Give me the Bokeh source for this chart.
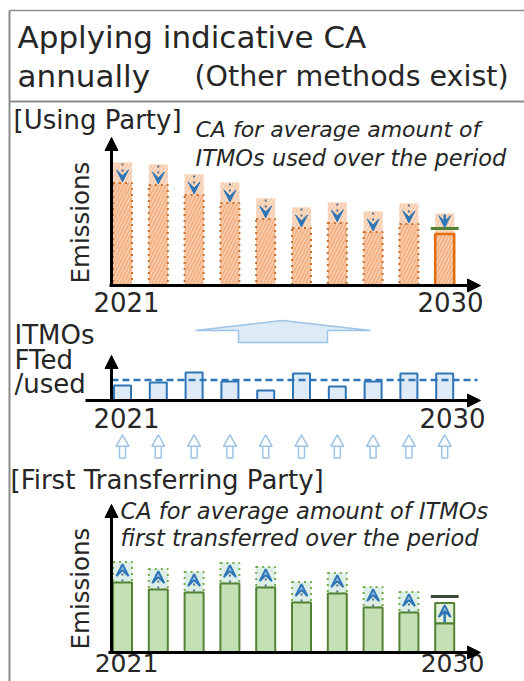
import numpy as np
from bokeh.plotting import figure
from bokeh.models import Range1d, ColumnDataSource, Arrow, NormalHead, VeeHead
from bokeh.embed import file_html
from bokeh.resources import INLINE
from bokeh.core.properties import value

# ---------------- data ----------------
years = list(range(2021, 2031))
# [Using Party] emissions before CA
using_emissions = [123, 121, 111, 103, 87, 78, 83, 74, 82, 72]
# ITMOs first transferred / used each year
itmos = [15, 18, 28, 19, 10, 27, 14, 19, 27, 27]
# [First Transferring Party] emissions before CA
ft_emissions = [70, 63, 60, 69, 65, 50, 59, 45, 40, 29]
target_using_2030 = 57
target_ft_2030 = 56
year_labels = ["2021", "2030"]

avg = float(np.mean(itmos))
using_adj = [e - avg for e in using_emissions]
ft_adj = [e + avg for e in ft_emissions]

# ---------------- layout constants ----------------
X0, DX = 122.0, 35.8          # pixel centre of first year, pixels per year
PAGE_L, PAGE_R, PAGE_T, PAGE_B = 0, 524, 0, 681
BASE_TOP, BASE_MID, BASE_BOT = 285, 400, 652
FONT = value("DejaVu Sans")
TXT = "#262626"
SHIFT = 0.45   # empirical baseline correction (em)

p = figure(width=PAGE_R - PAGE_L, height=PAGE_B - PAGE_T,
           x_range=Range1d(PAGE_L, PAGE_R), y_range=Range1d(PAGE_B, PAGE_T),
           x_axis_location=None, y_axis_location=None,
           output_backend="svg", toolbar_location=None, min_border=0)
p.grid.visible = False
p.outline_line_color = None
p.background_fill_color = "white"

p.extra_x_ranges = {"yr": Range1d(2021 + (PAGE_L - X0) / DX, 2021 + (PAGE_R - X0) / DX)}
p.extra_y_ranges = {
    "top": Range1d(BASE_TOP - PAGE_B, BASE_TOP - PAGE_T),
    "mid": Range1d(BASE_MID - PAGE_B, BASE_MID - PAGE_T),
    "bot": Range1d(BASE_BOT - PAGE_B, BASE_BOT - PAGE_T),
}

def label(x, y, s, size, style="normal", rotated=False, align="left"):
    if rotated:
        x, angle = x - SHIFT * size, np.pi / 2
    else:
        y, angle = y - SHIFT * size, 0.0
    p.text(x=[x], y=[y], text=[s], text_font=FONT, text_font_size=f"{size}px",
           text_font_style=style, text_color=TXT, text_align=align,
           text_baseline="alphabetic", angle=angle)

# ---------------- frame lines ----------------
BORDER = "#8C8C8C"
p.line([9, 9], [10, 681], line_color=BORDER, line_width=2)
p.line([9, 524], [10, 10], line_color=BORDER, line_width=1.5)
p.line([9, 524], [101, 101], line_color=BORDER, line_width=2)

# ---------------- title ----------------
label(17, 50, "Applying indicative CA", 31)
label(17, 89, "annually", 31)
label(194, 89, "(Other methods exist)", 28.5)

# ---------------- top panel: Using Party ----------------
label(13, 131, "[Using Party]", 26)
label(195, 139, "CA for average amount of", 22, "italic")
label(195, 168, "ITMOs used over the period", 22.5, "italic")
label(91, 222, "Emissions", 24.5, rotated=True, align="center")

BW = 19 / DX
src_top = ColumnDataSource(dict(x=years, em=using_emissions, adj=using_adj))
p.vbar(x="x", bottom="adj", top="em", width=BW, source=src_top,
       fill_color="#FBE3D2", line_color=None, hatch_pattern="/",
       hatch_color="#F8CBAD", hatch_weight=2, hatch_scale=7,
       x_range_name="yr", y_range_name="top")
src_top9 = ColumnDataSource(dict(x=years[:-1], adj=using_adj[:-1]))
p.vbar(x="x", bottom=0, top="adj", width=BW, source=src_top9,
       fill_color="#FAD3B7", hatch_pattern="/", hatch_color="#F4B183",
       hatch_weight=2, hatch_scale=7, line_color="#C9702E",
       line_dash="dotted", line_width=2, x_range_name="yr", y_range_name="top")
p.vbar(x=[years[-1]], bottom=[0], top=[using_adj[-1]], width=BW,
       fill_color="#FAD3B7", hatch_pattern="/", hatch_color="#F4B183",
       hatch_weight=2, hatch_scale=7, line_color="#E46C0A", line_width=2.5,
       x_range_name="yr", y_range_name="top")
p.segment(x0=[years[-1] - 0.39], x1=[years[-1] + 0.39],
          y0=[target_using_2030], y1=[target_using_2030],
          line_color="#548235", line_width=3, x_range_name="yr", y_range_name="top")

arr_top = ColumnDataSource(dict(x=years[:-1], ys=[e - 1 for e in using_emissions[:-1]],
                                ye=[a + 1 for a in using_adj[:-1]]))
p.add_layout(Arrow(x_start="x", y_start="ys", x_end="x", y_end="ye", source=arr_top,
                   start=None, end=VeeHead(size=12, fill_color="#2E75B6", line_color="#2E75B6"),
                   line_color="#5B6F8A", line_width=2, line_dash="dotted",
                   x_range_name="yr", y_range_name="top"))
p.add_layout(Arrow(x_start=years[-1], y_start=using_emissions[-1] - 1,
                   x_end=years[-1], y_end=target_using_2030 + 1,
                   start=None, end=VeeHead(size=12, fill_color="#2E75B6", line_color="#2E75B6"),
                   line_color="#2E75B6", line_width=2.5,
                   x_range_name="yr", y_range_name="top"))

# axes (top)
HEAD = dict(size=13, fill_color="black", line_color="black")
p.add_layout(Arrow(x_start=111, y_start=286, x_end=111, y_end=137,
                   end=NormalHead(**HEAD), line_width=3))
p.add_layout(Arrow(x_start=109, y_start=285, x_end=480, y_end=285,
                   end=NormalHead(**HEAD), line_width=3))
label(126, 313, year_labels[0], 26, align="center")
label(450, 313, year_labels[1], 26, align="center")

# big block arrow
p.patch([195, 282, 370, 327, 327, 238, 238], [330, 320, 330, 330, 342, 342, 330],
        fill_color="#DDEBF7", line_color="#9DC3E6", line_width=1.5)

# ---------------- middle panel: ITMOs ----------------
label(14, 346, "ITMOs", 26)
label(14, 371, "FTed", 26)
label(14, 395, "/used", 26)
p.vbar(x=years, bottom=0, top=itmos, width=17 / DX, fill_color="#DEEBF7",
       line_color="#2E75B6", line_width=2, x_range_name="yr", y_range_name="mid")
p.segment(x0=[2021 + (111 - X0) / DX], x1=[2021 + (477 - X0) / DX], y0=[avg], y1=[avg],
          line_color="#2E75B6", line_width=2.5, line_dash="7 4",
          x_range_name="yr", y_range_name="mid")
p.add_layout(Arrow(x_start=111, y_start=401, x_end=111, y_end=355,
                   end=NormalHead(**HEAD), line_width=3))
p.add_layout(Arrow(x_start=85, y_start=400, x_end=480, y_end=400,
                   end=NormalHead(**HEAD), line_width=3))
label(126, 429, year_labels[0], 26, align="center")
label(452, 429, year_labels[1], 26, align="center")

# small hollow up arrows
p.rect(x=years, y=[451] * len(years), width=6, height=13, width_units="screen",
       fill_color="white", line_color="#9DC3E6", line_width=1.5, x_range_name="yr")
p.scatter(x=years, y=[442] * len(years), marker="triangle", size=13,
          fill_color="white", line_color="#9DC3E6", line_width=1.5, x_range_name="yr")

# ---------------- bottom panel: First Transferring Party ----------------
label(10, 491, "[First Transferring Party]", 26)
label(120, 521, "CA for average amount of ITMOs", 22.5, "italic")
label(120, 548, "first transferred over the period", 22.5, "italic")
label(91, 588, "Emissions", 24.5, rotated=True, align="center")

src_b9 = ColumnDataSource(dict(x=years[:-1], em=ft_emissions[:-1], adj=ft_adj[:-1]))
p.vbar(x="x", bottom="em", top="adj", width=BW, source=src_b9,
       fill_color="#DCEEE6", line_color="#70AD47", line_width=2, line_dash="dotted",
       x_range_name="yr", y_range_name="bot")
p.vbar(x=[years[-1]], bottom=[ft_emissions[-1]], top=[ft_adj[-1]], width=BW,
       fill_color="#E2F0D9", line_color="#548235", line_width=2,
       x_range_name="yr", y_range_name="bot")
p.vbar(x=years, bottom=0, top=ft_emissions, width=BW, fill_color="#C5E0B4",
       line_color="#548235", line_width=2, x_range_name="yr", y_range_name="bot")
p.segment(x0=[years[-1] - 0.39], x1=[years[-1] + 0.39],
          y0=[target_ft_2030], y1=[target_ft_2030],
          line_color="#3B4A33", line_width=3, x_range_name="yr", y_range_name="bot")

arr_bot = ColumnDataSource(dict(x=years[:-1], ys=[e + 1 for e in ft_emissions[:-1]],
                                ye=[a - 2 for a in ft_adj[:-1]]))
p.add_layout(Arrow(x_start="x", y_start="ys", x_end="x", y_end="ye", source=arr_bot,
                   start=None, end=VeeHead(size=12, fill_color="#9DC3E6", line_color="#2E75B6",
                                           line_width=2),
                   line_color="#5B6F8A", line_width=2, line_dash="dotted",
                   x_range_name="yr", y_range_name="bot"))
p.add_layout(Arrow(x_start=years[-1], y_start=ft_emissions[-1] + 1,
                   x_end=years[-1], y_end=ft_adj[-1] - 2,
                   start=None, end=VeeHead(size=12, fill_color="#9DC3E6", line_color="#2E75B6",
                                           line_width=2),
                   line_color="#2E75B6", line_width=2.5,
                   x_range_name="yr", y_range_name="bot"))

p.add_layout(Arrow(x_start=111, y_start=653, x_end=111, y_end=504,
                   end=NormalHead(**HEAD), line_width=3))
p.add_layout(Arrow(x_start=108, y_start=652, x_end=480, y_end=652,
                   end=NormalHead(**HEAD), line_width=3))
label(126, 674, year_labels[0], 25, align="center")
label(452, 674, year_labels[1], 25, align="center")

open("out.html", "w").write(file_html(p, INLINE))
